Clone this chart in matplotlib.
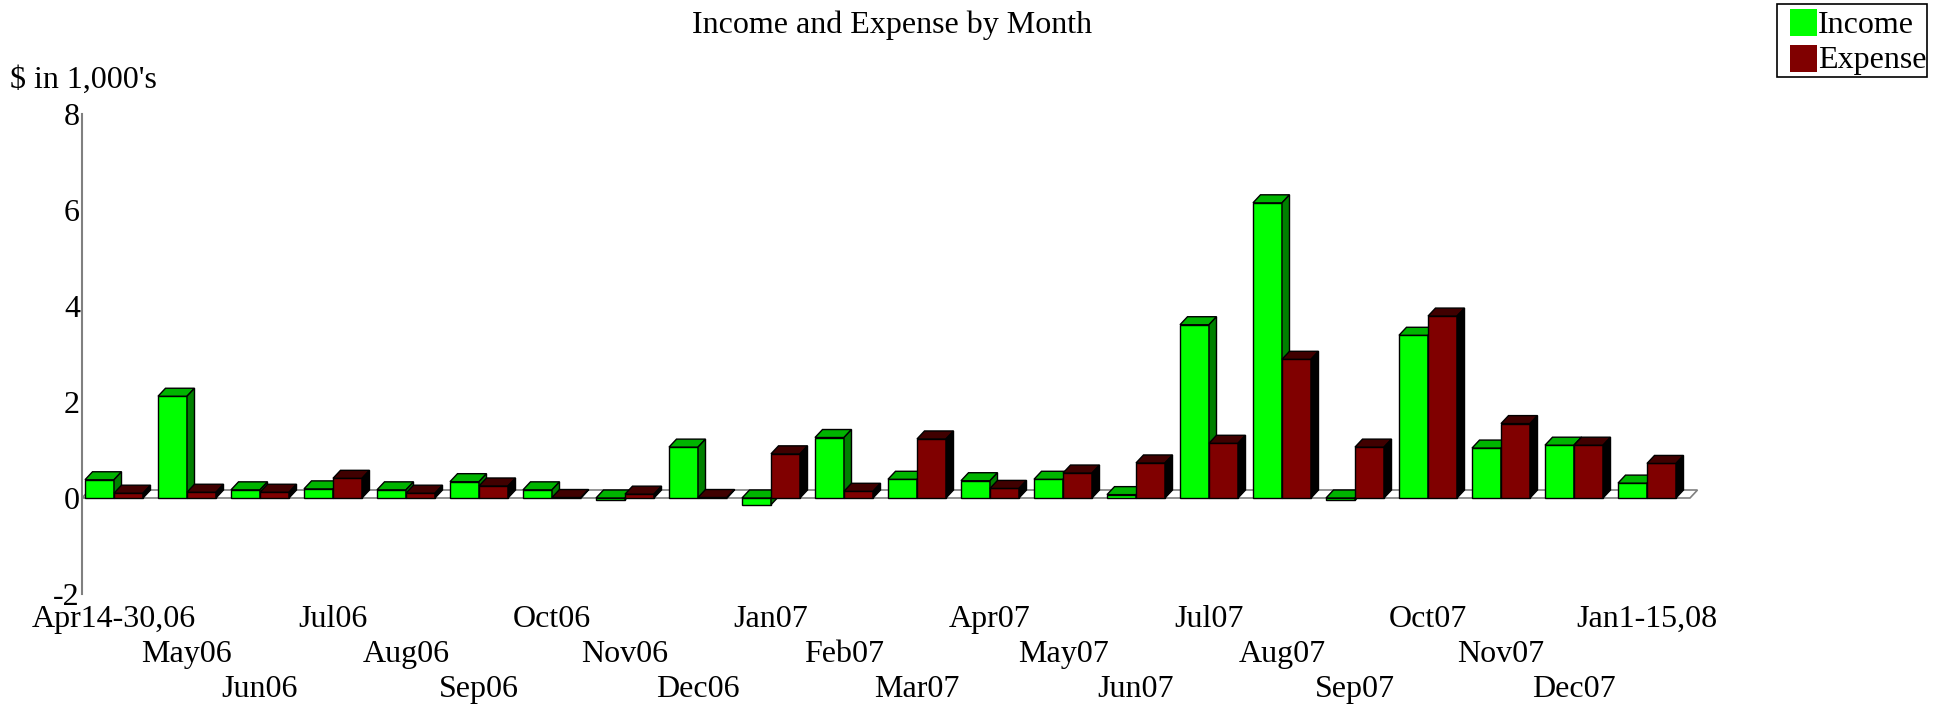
import numpy as np
import matplotlib
matplotlib.use("Agg")
import matplotlib.pyplot as plt
from matplotlib.patches import Polygon, Rectangle
from matplotlib import transforms

plt.rcParams['font.family'] = ['Liberation Serif', 'DejaVu Serif']

months = ['Apr14-30,06', 'May06', 'Jun06', 'Jul06', 'Aug06', 'Sep06', 'Oct06',
          'Nov06', 'Dec06', 'Jan07', 'Feb07', 'Mar07', 'Apr07', 'May07', 'Jun07',
          'Jul07', 'Aug07', 'Sep07', 'Oct07', 'Nov07', 'Dec07', 'Jan1-15,08']
income = [0.38, 2.12, 0.17, 0.19, 0.17, 0.34, 0.17, -0.04, 1.06, -0.14, 1.26,
          0.39, 0.36, 0.39, 0.07, 3.61, 6.15, -0.05, 3.39, 1.04, 1.10, 0.31]
expense = [0.10, 0.12, 0.12, 0.41, 0.10, 0.25, 0.01, 0.08, 0.01, 0.92, 0.14,
           1.23, 0.20, 0.52, 0.73, 1.14, 2.89, 1.06, 3.79, 1.55, 1.10, 0.72]
yticks = [-2, 0, 2, 4, 6, 8]

W, H = 1948, 707
fig = plt.figure(figsize=(W / 100, H / 100), dpi=100)

# axes placed in pixels: left 82, right 1690, y=8 at 114, y=-2 at 594
ax = fig.add_axes([82 / W, (H - 594) / H, (1690 - 82) / W, 480 / H])
pitch = 73.0          # px per group
bw = 29 / pitch       # bar width in data units
xmin = (82 - 114) / pitch
xmax = (1690 - 114) / pitch
ax.set_xlim(xmin, xmax)
ax.set_ylim(-2, 8)

# depth offset for the 3D look
dx = 7.5 / pitch
dy = 8 / 48.0

# floor
floor = Polygon([(xmin, 0), (xmax, 0), (xmax + dx, dy), (xmin + dx, dy)],
                closed=True, facecolor='white', edgecolor='#808080', lw=1.2,
                zorder=1, clip_on=False)
ax.add_patch(floor)

styles = {
    'income': ('#00ff00', '#00b400', '#008000'),
    'expense': ('#800000', '#400000', '#000000'),
}

x = np.arange(len(months))


def bar3d(x0, v, cols, z):
    front, top, side = cols
    b = ax.bar(x0, v, width=bw, align='edge', color=front, edgecolor='black',
               lw=1, zorder=z)
    hi = max(v, 0)
    lo = min(v, 0)
    ax.add_patch(Polygon([(x0, hi), (x0 + dx, hi + dy), (x0 + bw + dx, hi + dy), (x0 + bw, hi)],
                         closed=True, facecolor=top, edgecolor='black', lw=1,
                         zorder=z, clip_on=False))
    ax.add_patch(Polygon([(x0 + bw, lo), (x0 + bw, hi), (x0 + bw + dx, hi + dy), (x0 + bw + dx, lo + dy)],
                         closed=True, facecolor=side, edgecolor='black', lw=1,
                         zorder=z, clip_on=False))
    return b


for i in range(len(months)):
    bar3d(x[i] - bw, income[i], styles['income'], 3 + i * 0.02)
    bar3d(x[i], expense[i], styles['expense'], 3.01 + i * 0.02)

# axes look
for s in ['top', 'right', 'bottom']:
    ax.spines[s].set_visible(False)
ax.spines['left'].set_color('#808080')
ax.spines['left'].set_linewidth(1.5)
ax.set_yticks(yticks)
ax.set_yticklabels([str(t) for t in yticks])
ax.tick_params(axis='y', length=0, pad=1.5, labelsize=23)
ax.set_xticks([])

# staggered month labels, three rows
tr = transforms.blended_transform_factory(ax.transData, fig.transFigure)
rows = [627, 662, 697]
for i, m in enumerate(months):
    ax.text(x[i], 1 - rows[i % 3] / H, m, transform=tr, ha='center',
            va='baseline', fontsize=23, clip_on=False)

fig.text(892 / W, 1 - 33 / H, 'Income and Expense by Month', ha='center',
         va='baseline', fontsize=23)
fig.text(10 / W, 1 - 88 / H, "$ in 1,000's", ha='left', va='baseline',
         fontsize=23)

# legend box
fig.patches.append(Rectangle((1777 / W, 1 - 77 / H), 150 / W, 73 / H,
                             transform=fig.transFigure, facecolor='white',
                             edgecolor='black', lw=1.2))
for k, (name, col, base) in enumerate([('Income', '#00ff00', 33), ('Expense', '#800000', 68)]):
    top = 9 + 36 * k
    fig.patches.append(Rectangle((1790 / W, 1 - (top + 27) / H), 27 / W, 27 / H,
                                 transform=fig.transFigure, facecolor=col,
                                 edgecolor='none'))
    fig.text(1818 / W, 1 - base / H, name, ha='left', va='baseline', fontsize=23)

fig.savefig('out.png', dpi=100)
